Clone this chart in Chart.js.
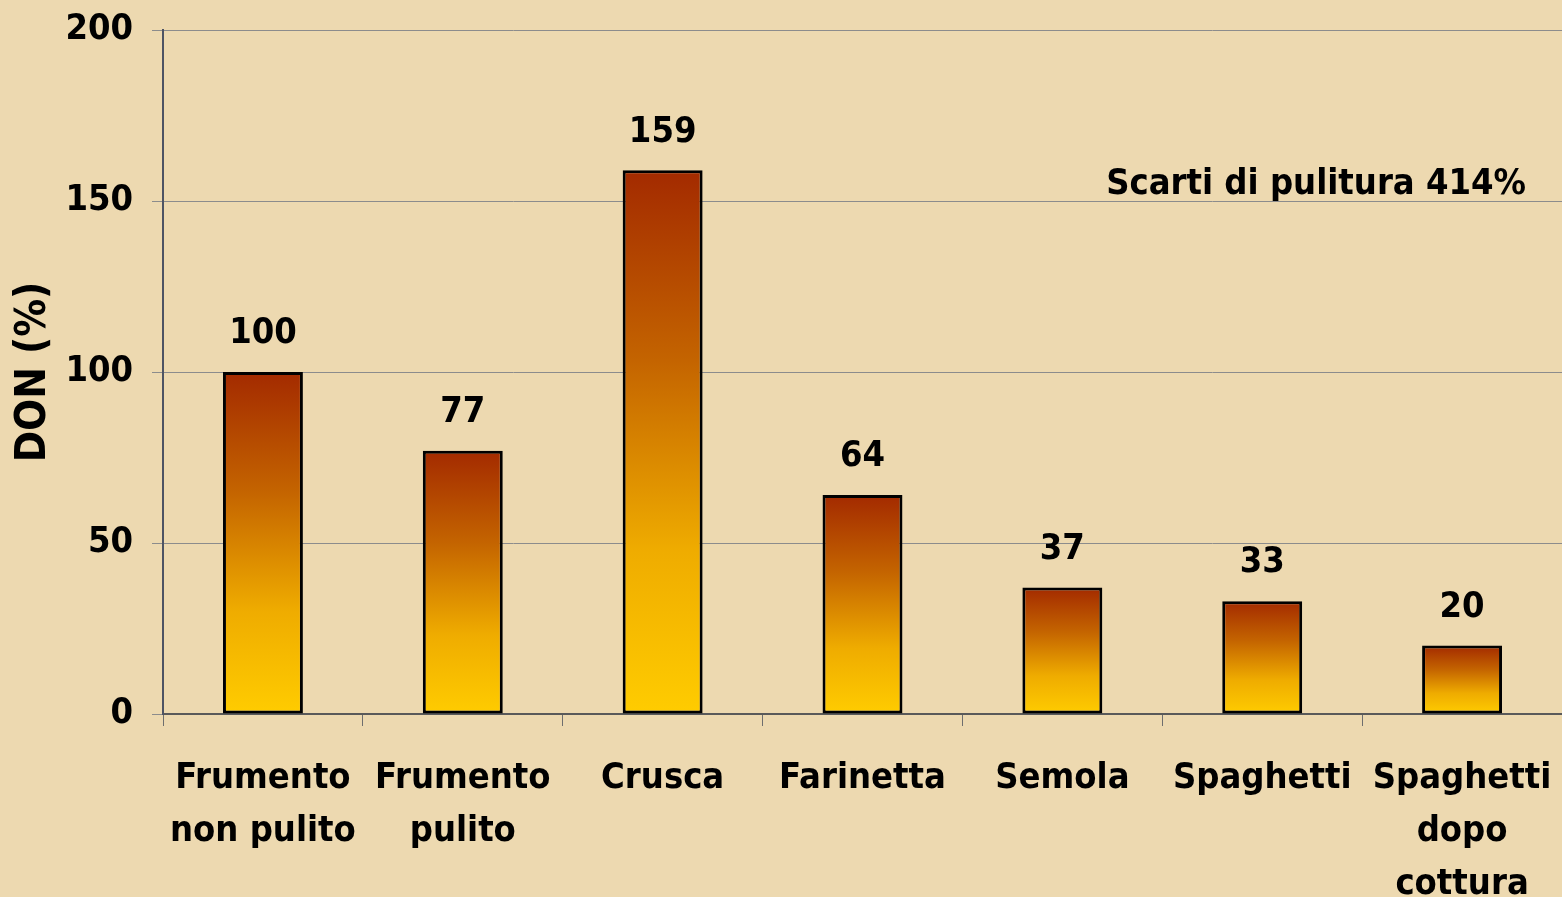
<!DOCTYPE html>
<html>
<head>
<meta charset="utf-8">
<script src="https://cdn.jsdelivr.net/npm/chart.js@4/dist/chart.umd.min.js"></script>
<style>
  html, body { margin: 0; padding: 0; background: #ecdab2; }
  #wrap { width: 1562px; height: 897px; }
</style>
</head>
<body>
<div id="wrap"><canvas id="donChart" width="1562" height="897"></canvas></div>
<script>
// Datos del grafico
const categorias = [
  ["Frumento", "non pulito"],
  ["Frumento", "pulito"],
  "Crusca",
  "Farinetta",
  "Semola",
  "Spaghetti",
  ["Spaghetti", "dopo", "cottura"]
];
const valoresDON = [100, 77, 159, 64, 37, 33, 20];
const ticksY = [0, 50, 100, 150, 200];
const tituloY = "DON (%)";
const nota = "Scarti di pulitura 414%";

const fuente = "'DejaVu Sans Condensed', 'DejaVu Sans', sans-serif";

// Fondo del lienzo
const fondoPlugin = {
  id: "fondo",
  beforeDraw(chart) {
    const ctx = chart.ctx;
    ctx.save();
    ctx.fillStyle = "#edd9b0";
    ctx.fillRect(0, 0, chart.width, chart.height);
    ctx.restore();
  }
};

// Degradado de cada barra segun su altura
function degradadoBarra(c) {
  const chart = c.chart;
  if (!chart.chartArea || c.dataIndex === undefined) return "#ffcc00";
  const y = chart.scales.y;
  const top = y.getPixelForValue(valoresDON[c.dataIndex]);
  const base = y.getPixelForValue(0);
  const g = chart.ctx.createLinearGradient(0, top, 0, base);
  g.addColorStop(0, "#a32a00");
  g.addColorStop(0.35, "#c46400");
  g.addColorStop(0.7, "#efac00");
  g.addColorStop(1, "#ffcc00");
  return g;
}

// Etiquetas de valor y nota
const etiquetasPlugin = {
  id: "etiquetas",
  afterDatasetsDraw(chart) {
    const ctx = chart.ctx;
    ctx.save();
    ctx.fillStyle = "#000";
    ctx.font = "bold 36px " + fuente;
    ctx.textAlign = "center";
    ctx.textBaseline = "middle";
    chart.getDatasetMeta(0).data.forEach((bar, i) => {
      ctx.fillText(valoresDON[i], bar.x, bar.y - 38);
    });
    ctx.textAlign = "right";
    ctx.fillText(nota, chart.scales.x.getPixelForValue(6.32), chart.scales.y.getPixelForValue(154.8));
    ctx.restore();
  }
};

new Chart(document.getElementById("donChart"), {
  type: "bar",
  data: {
    labels: categorias,
    datasets: [{
      data: valoresDON,
      backgroundColor: degradadoBarra,
      borderColor: "#000",
      borderWidth: 3,
      borderSkipped: false,
      barPercentage: 0.4,
      categoryPercentage: 1
    }]
  },
  options: {
    responsive: false,
    animation: false,
    layout: { padding: { top: 30, left: 0, right: 0, bottom: 0 } },
    plugins: {
      legend: { display: false },
      tooltip: { enabled: false }
    },
    scales: {
      x: {
        offset: true,
        grid: { drawOnChartArea: false, drawTicks: true, tickLength: 12, color: "#6e6e6e", offset: true },
        border: { color: "#5a5a5a", width: 2 },
        ticks: {
          color: "#000",
          font: { family: fuente, size: 36, weight: "bold", lineHeight: 1.47 },
          padding: 26,
          maxRotation: 0,
          autoSkip: false
        },
        afterFit(scale) {
          scale.height = 183;
          scale.paddingLeft = 0;
          scale.paddingRight = 0;
        }
      },
      y: {
        min: 0,
        max: 200,
        afterBuildTicks(scale) {
          scale.ticks = ticksY.map(v => ({ value: v }));
        },
        grid: { color: "#8c8c8c", lineWidth: 1, tickLength: 11 },
        border: { color: "#4e5464", width: 2 },
        ticks: {
          color: "#000",
          font: { family: fuente, size: 36, weight: "bold" },
          padding: 19
        },
        title: {
          display: true,
          text: tituloY,
          color: "#000",
          font: { family: fuente, size: 42, weight: "bold" },
          padding: { top: 9, bottom: 0 }
        },
        afterFit(scale) {
          scale.width = 163;
          scale.paddingTop = 0;
          scale.paddingBottom = 0;
        }
      }
    }
  },
  plugins: [fondoPlugin, etiquetasPlugin]
});
</script>
</body>
</html>
